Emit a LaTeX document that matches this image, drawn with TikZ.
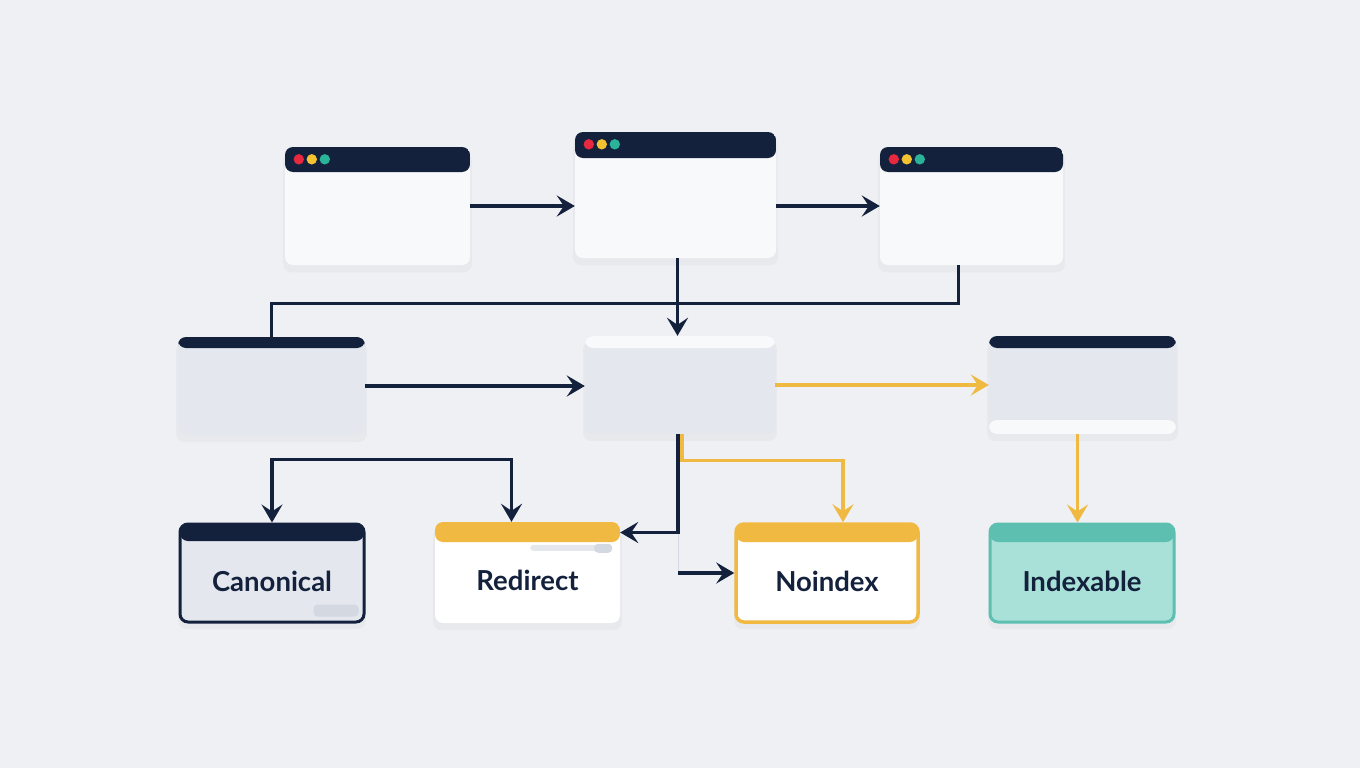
\documentclass[tikz,border=0pt]{standalone}
\usepackage{fontspec}
\setmainfont{Lato}
\usetikzlibrary{arrows.meta,positioning,shadows}
\definecolor{PageBg}{HTML}{EEF0F3}
\definecolor{PageNavy}{HTML}{14213D}
\definecolor{PageYellow}{HTML}{F0BA42}
\definecolor{PageTeal}{HTML}{5CBFB0}
\definecolor{PageTealLight}{HTML}{A9E1D9}
\definecolor{PageWhite}{HTML}{F8F9FB}
\definecolor{PageGray}{HTML}{E4E7EE}
\definecolor{PagePill}{HTML}{D3D8E1}
\definecolor{DotRed}{HTML}{E8283F}
\definecolor{DotYellow}{HTML}{F2C230}
\definecolor{DotGreen}{HTML}{2BB39A}

\tikzset{
  win/.style={rectangle, rounded corners=8pt, inner sep=0pt, fill=PageWhite,
    drop shadow={opacity=0.06, shadow xshift=0pt, shadow yshift=-6pt, shadow scale=1.02}},
  header/.style n args={2}{path picture={
    \fill[#1] (path picture bounding box.north west) rectangle ([yshift=-#2]path picture bounding box.north east);}},
  footer/.style n args={2}{path picture={
    \fill[PageNavy] (path picture bounding box.north west) rectangle ([yshift=-12pt]path picture bounding box.north east);
    \fill[#1] (path picture bounding box.south west) rectangle ([yshift=#2]path picture bounding box.south east);}},
  label/.style={font=\fontsize{27.5}{32}\selectfont\bfseries, text=PageNavy},
  tip/.style={-{Stealth[length=18pt,width=21pt,inset=7pt]}},
  navyarrow/.style={draw=PageNavy, line width=3.3pt, tip},
  goldarrow/.style={draw=PageYellow, line width=3.3pt, tip},
  navyline/.style={draw=PageNavy, line width=3.3pt}
}

\begin{document}
\begin{tikzpicture}[x=1pt, y=-1pt]
\fill[PageBg] (0,0) rectangle (1360,768);
\useasboundingbox (0,0) rectangle (1360,768);

% Top row - browser windows
\node[win, header={PageNavy}{25pt}, minimum width=185pt, minimum height=118pt] (srcA) at (377.5,206) {};
\node[win, header={PageNavy}{26pt}, minimum width=201pt, minimum height=126pt] (srcB) at (675.5,195) {};
\node[win, header={PageNavy}{25pt}, minimum width=183pt, minimum height=118pt] (srcC) at (971.5,206) {};

% Window dots
\foreach \w in {srcA,srcB,srcC}
  \foreach \c [count=\i] in {DotRed,DotYellow,DotGreen}
    \fill[\c] ([xshift={\i*13pt+1pt}, yshift=-12.5pt]\w.north west) circle (5.2pt);

% Middle row
\node[win, fill=PageGray, header={PageNavy}{11pt}, minimum width=187pt, minimum height=98pt] (left) at (271.5,386) {};
\node[win, fill=PageGray, header={PageWhite}{12pt}, minimum width=190pt, minimum height=98pt] (hub) at (680,385) {};
\node[win, fill=PageGray, footer={PageWhite}{14pt}, minimum width=187pt, minimum height=98pt] (right) at (1082.5,385) {};

% Bottom row - outcomes
\node[win, fill=PageGray, draw=PageNavy, line width=3pt, header={PageNavy}{17pt},
  minimum width=184pt, minimum height=98pt] (canon) at (272,573) {};
\node[win, fill=white, header={PageYellow}{20pt}, minimum width=185pt, minimum height=101pt] (redir) at (527.5,572.5) {};
\node[win, fill=white, draw=PageYellow, line width=3.5pt, header={PageYellow}{18pt},
  minimum width=182pt, minimum height=98pt] (noidx) at (827,573) {};
\node[win, fill=PageTealLight, draw=PageTeal, line width=3pt, header={PageTeal}{18pt},
  minimum width=184pt, minimum height=98pt] (index) at (1082,573) {};

% Small pills inside outcome cards
\fill[PagePill, rounded corners=4pt] ([xshift=-52pt, yshift=7pt]canon.south east) rectangle ([xshift=-7pt, yshift=19pt]canon.south east);
\fill[PagePill!60, rounded corners=3pt] ([xshift=-90pt, yshift=-23pt]redir.north east) rectangle ([xshift=-8pt, yshift=-29pt]redir.north east);
\fill[PagePill, rounded corners=4pt] ([xshift=-26pt, yshift=-22pt]redir.north east) rectangle ([xshift=-8pt, yshift=-31pt]redir.north east);

% Card labels
\node[label] at ([yshift=-8pt]canon.center) {Canonical};
\node[label] at ([yshift=-8pt]redir.center) {Redirect};
\node[label] at ([yshift=-8pt]noidx.center) {Noindex};
\node[label] at ([yshift=-8pt]index.center) {Indexable};

% Top row arrows
\draw[navyarrow] (srcA.east) -- (srcA.east -| srcB.west);
\draw[navyarrow] (srcB.east |- srcA.east) -- (srcC.west);
\draw[navyarrow] ([xshift=2pt]srcB.south) -- ([xshift=2pt]srcB.south |- hub.north);

% Long connector from last window back to the left box
\draw[navyline] (left.north) -- ++(0,-33) -| ([xshift=-13pt]srcC.south);

% Middle row arrows
\draw[navyarrow] (left.east) -- (left.east -| hub.west);
\draw[goldarrow] (hub.east) -- (hub.east -| right.west);

% Branches to outcomes
\draw[navyarrow, {Stealth[length=18pt,width=21pt,inset=7pt]}-{Stealth[length=18pt,width=21pt,inset=7pt]}]
  (canon.north) -- ++(0,-63) -| ([xshift=-16pt]redir.north);
\draw[goldarrow] ([xshift=2pt]hub.south) -- ++(0,26) -| ([xshift=16pt]noidx.north);
\coordinate (split) at ([xshift=-2pt]hub.south |- noidx.west);
\draw[PagePill, line width=1pt] ([xshift=-2pt]hub.south) -- (split);
\draw[navyarrow] ([xshift=-2pt]hub.south) |- ([yshift=40pt]redir.east);
\draw[navyarrow] (split) -- (noidx.west);
\draw[goldarrow] ([xshift=-5pt]right.south) -- ([xshift=-5pt]right.south |- index.north);
\end{tikzpicture}
\end{document}
